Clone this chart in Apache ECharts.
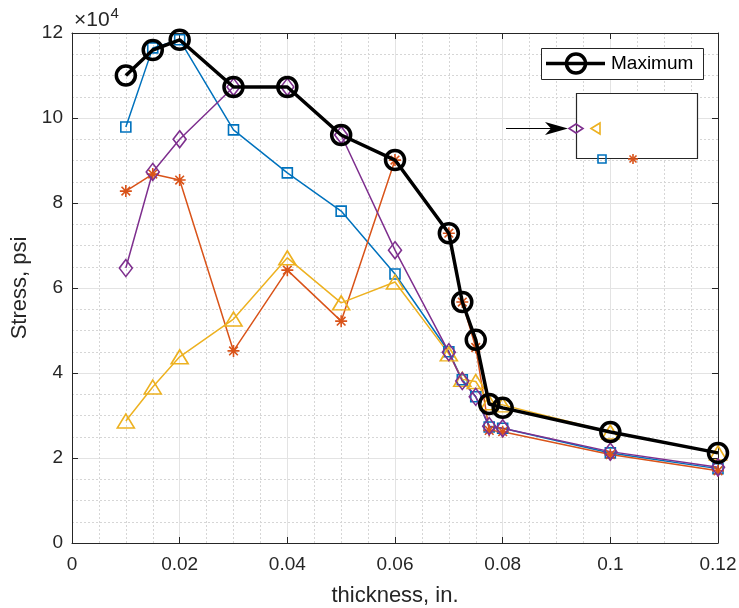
<!DOCTYPE html>
<html>
<head>
<meta charset="utf-8">
<script src="https://cdn.jsdelivr.net/npm/echarts@6/dist/echarts.min.js"></script>
<style>html,body{margin:0;padding:0;background:#fff;}#c{width:739px;height:608px;}</style>
</head>
<body>
<div id="c"></div>
<script>
var thickness = [0.01, 0.015, 0.02, 0.03, 0.04, 0.05, 0.06, 0.07, 0.0725, 0.075, 0.0775, 0.08, 0.1, 0.12];
var maximum  = [110000, 116000, 118400, 107300, 107300, 96000, 90100, 72900, 56700, 47800, 32700, 31800, 26100, 21200];
var blueSq   = [97900, 116500, 118400, 97200, 87100, 78100, 63300, 45000, 38400, 34400, 27300, 27000, 21200, 17500];
var purpleDi = [64700, 87300, 95000, 107300, 107300, 96000, 68900, 44900, 38100, 34400, 27500, 27000, 21500, 17800];
var orangeSt = [82800, 86800, 85400, 45200, 64200, 52200, 90100, 72900, 56700, 46000, 26500, 26200, 20800, 17000];
var yellowTr = [28700, 36700, 43800, 52700, 67100, 56500, 61400, 44500, 38500, 38000, 33000, 32500, 26100, 21200];
var xTicks = [0, 0.02, 0.04, 0.06, 0.08, 0.1, 0.12];
var yTicks = [0, 20000, 40000, 60000, 80000, 100000, 120000];

function pairs(ys){ return thickness.map(function(x,i){ return [x, ys[i]]; }); }

var FONT = '"Liberation Sans", Arial, Helvetica, sans-serif';
var AX = '#262626';
var asterisk = 'path://M0,-1L0,1M-1,0L1,0M-0.72,-0.72L0.72,0.72M-0.72,0.72L0.72,-0.72';

function ser(name, ys, color, symbol, size, lw, bw, z){
  return {
    name: name, type: 'line', data: pairs(ys), z: z,
    symbol: symbol, symbolSize: size, symbolKeepAspect: false,
    showAllSymbol: true,
    lineStyle: {color: color, width: lw},
    itemStyle: {color: 'rgba(0,0,0,0)', borderColor: color, borderWidth: bw},
    emphasis: {disabled: true}, animation: false,
    xAxisIndex: 0, yAxisIndex: 0
  };
}

function seg(x1, y1, x2, y2, color, w){
  return {type: 'line', z: 23, shape: {x1: x1, y1: y1, x2: x2, y2: y2}, style: {stroke: color, lineWidth: w}};
}

var chart = echarts.init(document.getElementById('c'), null, {renderer: 'canvas'});
var grid = {left: 72, top: 33, right: 21, bottom: 65, containLabel: false, outerBoundsMode: 'none'};
var commonSplit = {show: true, lineStyle: {color: '#e3e3e3', width: 1}};
var minorSplit = {show: true, lineStyle: {color: '#d6d6d6', width: 1, type: [2, 2]}};

chart.setOption({
  animation: false,
  backgroundColor: '#fff',
  grid: grid,
  xAxis: [{
    type: 'value', min: 0, max: 0.12, interval: 0.02,
    name: 'thickness, in.', nameLocation: 'middle', nameGap: 42,
    nameTextStyle: {fontFamily: FONT, fontSize: 22, color: AX},
    axisLine: {show: true, onZero: false, lineStyle: {color: AX, width: 1}},
    axisTick: {show: true, inside: true, length: 6, lineStyle: {color: AX}},
    axisLabel: {fontFamily: FONT, fontSize: 19, color: AX, margin: 12,
      formatter: function(v){ return String(+v.toFixed(3)); }},
    splitLine: commonSplit,
    minorTick: {show: false, splitNumber: 4},
    minorSplitLine: minorSplit
  },{
    type: 'value', min: 0, max: 0.12, interval: 0.02, position: 'top',
    axisLine: {show: true, onZero: false, lineStyle: {color: AX, width: 1}},
    axisTick: {show: true, inside: true, length: 6, lineStyle: {color: AX}},
    axisLabel: {show: false}, splitLine: {show: false}
  }],
  yAxis: [{
    type: 'value', min: 0, max: 120000, interval: 20000,
    name: 'Stress, psi', nameLocation: 'middle', nameGap: 36,
    nameTextStyle: {fontFamily: FONT, fontSize: 22, color: AX},
    axisLine: {show: true, onZero: false, lineStyle: {color: AX, width: 1}},
    axisTick: {show: true, inside: true, length: 6, lineStyle: {color: AX}},
    axisLabel: {fontFamily: FONT, fontSize: 19, color: AX, margin: 9,
      formatter: function(v){ return String(v / 10000); }},
    splitLine: commonSplit,
    minorTick: {show: false, splitNumber: 4},
    minorSplitLine: minorSplit
  },{
    type: 'value', min: 0, max: 120000, interval: 20000, position: 'right',
    axisLine: {show: true, onZero: false, lineStyle: {color: AX, width: 1}},
    axisTick: {show: true, inside: true, length: 6, lineStyle: {color: AX}},
    axisLabel: {show: false}, splitLine: {show: false}
  }],
  series: [
    ser('s1', blueSq, '#0072BD', 'rect', 10, 1.5, 1.6, 3),
    ser('s2', orangeSt, '#D95319', asterisk, 12, 1.5, 1.6, 3),
    ser('s3', yellowTr, '#EDB120', 'triangle', [17, 14], 1.5, 1.6, 3),
    ser('s4', purpleDi, '#7E2F8E', 'diamond', [13, 17], 1.5, 1.6, 3),
    ser('Maximum', maximum, '#000000', 'circle', 19, 3.5, 3.5, 4)
  ],
  graphic: [
    {type: 'text', x: 74, y: 6, z: 10,
      style: {text: '{b|×10}{s|4}',
        rich: {b: {fontFamily: FONT, fontSize: 21, fill: AX, verticalAlign: 'bottom'},
               s: {fontFamily: FONT, fontSize: 15, fill: AX, verticalAlign: 'top', padding: [0,0,10,1]}}}},
    // Legend box
    {type: 'rect', z: 20, shape: {x: 541.5, y: 48.5, width: 162, height: 31},
      style: {fill: '#fff', stroke: AX, lineWidth: 1}},
    {type: 'line', z: 21, shape: {x1: 546, y1: 63.5, x2: 605, y2: 63.5},
      style: {stroke: '#000', lineWidth: 3.5}},
    {type: 'circle', z: 22, shape: {cx: 576, cy: 63.5, r: 9.5},
      style: {fill: 'rgba(0,0,0,0)', stroke: '#000', lineWidth: 3.5}},
    {type: 'text', z: 22, x: 611, y: 54,
      style: {text: 'Maximum', fontFamily: FONT, fontSize: 19, fill: '#000'}},
    // Second (empty) box
    {type: 'rect', z: 20, shape: {x: 576.5, y: 93.5, width: 121, height: 65},
      style: {fill: '#fff', stroke: AX, lineWidth: 1.2}},
    // arrow
    seg(506, 128.5, 560, 128.5, '#000', 1),
    {type: 'polygon', z: 21, shape: {points: [[545, 122], [568, 128.5], [545, 135], [551, 128.5]]},
      style: {fill: '#000'}},
    // legend markers on box
    {type: 'polygon', z: 23, shape: {points: [[569, 128.5], [576, 124], [583, 128.5], [576, 133]]},
      style: {fill: 'rgba(0,0,0,0)', stroke: '#7E2F8E', lineWidth: 1.6}},
    {type: 'polygon', z: 23, shape: {points: [[591, 128.5], [600, 123], [600, 134]]},
      style: {fill: 'rgba(0,0,0,0)', stroke: '#EDB120', lineWidth: 1.6}},
    {type: 'rect', z: 23, shape: {x: 598, y: 155, width: 8, height: 8},
      style: {fill: 'rgba(0,0,0,0)', stroke: '#0072BD', lineWidth: 1.6}},
    seg(633, 154, 633, 164, '#D95319', 1.6),
    seg(628, 159, 638, 159, '#D95319', 1.6),
    seg(629.5, 155.5, 636.5, 162.5, '#D95319', 1.6),
    seg(629.5, 162.5, 636.5, 155.5, '#D95319', 1.6)
  ]
});
</script>
</body>
</html>
